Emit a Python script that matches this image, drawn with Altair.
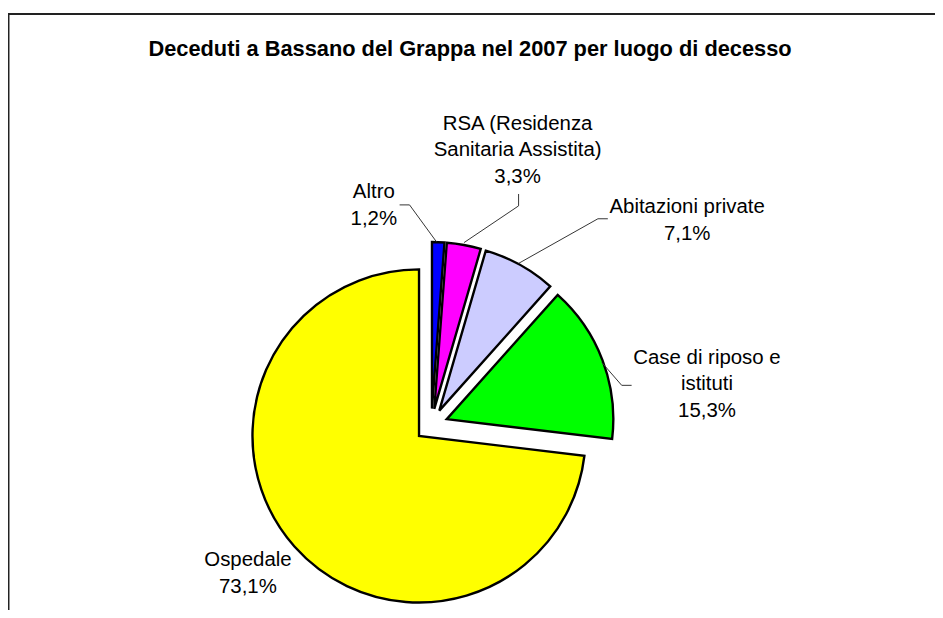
import altair as alt
import pandas as pd

# ---- data ----
categories = ["Altro", "RSA (Residenza Sanitaria Assistita)", "Abitazioni private",
              "Case di riposo e istituti", "Ospedale"]
label_lines = [["Altro"], ["RSA (Residenza", "Sanitaria Assistita)"], ["Abitazioni private"],
               ["Case di riposo e", "istituti"], ["Ospedale"]]
values = [1.2, 3.3, 7.1, 15.3, 73.1]
colors = ["#0000FF", "#FF00FF", "#CCCCFF", "#00FF00", "#FFFF00"]
title_text = "Deceduti a Bassano del Grappa nel 2007 per luogo di decesso"

# ---- layout (chart pixel space, page minus 8px margin) ----
W, H = 935, 602
CX, CY = 427.0, 418.0      # pie centre
R = 168                     # radius
EXPLODE = 16.6              # explosion distance
FONT = "Liberation Sans"

label_pos = {  # centre of first line of each label
    "Altro": (369, 183),
    "RSA (Residenza Sanitaria Assistita)": (514, 114),
    "Abitazioni private": (685, 198),
    "Case di riposo e istituti": (705, 350),
    "Ospedale": (242, 554),
}
leaders = {
    "Altro": [(395, 196), (405, 196), (432, 233)],
    "RSA (Residenza Sanitaria Assistita)": [(515, 185), (515, 197), (460, 234)],
    "Abitazioni private": [(605, 210), (595, 210), (515, 255)],
    "Case di riposo e istituti": [(629, 378), (619, 378), (599, 355)],
}

pie_df = pd.DataFrame({"cat": categories, "value": values, "order": list(range(len(values)))})

lab_rows = []
for cat, lines, v in zip(categories, label_lines, values):
    pct = f"{v:.1f}".replace(".", ",") + "%"
    x, y = label_pos[cat]
    lab_rows.append({"cat": cat, "txt": "\n".join(lines + [pct]), "lx": x, "ly": y})
lab_df = pd.DataFrame(lab_rows)

lead_rows = []
for cat, pts in leaders.items():
    for i, (x, y) in enumerate(pts):
        lead_rows.append({"cat": cat, "i": i, "lx": x, "ly": y})
lead_df = pd.DataFrame(lead_rows)

pie = alt.Chart(pie_df).transform_window(
    cum="sum(value)", sort=[alt.SortField("order")]
).transform_joinaggregate(
    total="sum(value)"
).transform_calculate(
    t0="2*PI*(datum.cum - datum.value)/datum.total",
    t1="2*PI*datum.cum/datum.total",
).transform_calculate(
    mid="(datum.t0 + datum.t1)/2"
).transform_calculate(
    px=f"{CX} + {EXPLODE}*sin(datum.mid)",
    py=f"{CY} - {EXPLODE}*cos(datum.mid)",
).mark_arc(outerRadius=R, stroke="black", strokeWidth=2.4, strokeJoin="miter").encode(
    theta=alt.Theta("t0:Q", scale=None),
    theta2="t1:Q",
    x=alt.X("px:Q", scale=None),
    y=alt.Y("py:Q", scale=None),
    color=alt.Color("cat:N", scale=alt.Scale(domain=categories, range=colors), legend=None),
)

labels = alt.Chart(lab_df).mark_text(
    font=FONT, fontSize=20.6, lineHeight=27, align="center", baseline="middle",
    lineBreak="\n", color="black"
).encode(
    x=alt.X("lx:Q", scale=None),
    y=alt.Y("ly:Q", scale=None),
    text="txt:N",
)

lead = alt.Chart(lead_df).mark_line(color="#333333", strokeWidth=1).encode(
    x=alt.X("lx:Q", scale=None),
    y=alt.Y("ly:Q", scale=None),
    detail="cat:N",
    order="i:Q",
)

title = alt.Chart(pd.DataFrame({"t": [title_text]})).mark_text(
    font=FONT, fontSize=22, fontWeight="bold", align="center", baseline="middle", color="black"
).encode(
    x=alt.value(466), y=alt.value(39), text="t:N"
)

frame = alt.Chart(pd.DataFrame({"a": [0]})).mark_rect(
    fill=None, stroke="#222222", strokeWidth=2
).encode(
    x=alt.value(0.5), x2=alt.value(1200), y=alt.value(3.5), y2=alt.value(1200)
)

chart = alt.layer(frame, pie, lead, labels, title).properties(
    width=W, height=H, padding=0, autosize=alt.AutoSizeParams(type="none")
).configure_view(stroke=None)

chart.save("out.html", embed_options={"renderer": "svg", "actions": False})
